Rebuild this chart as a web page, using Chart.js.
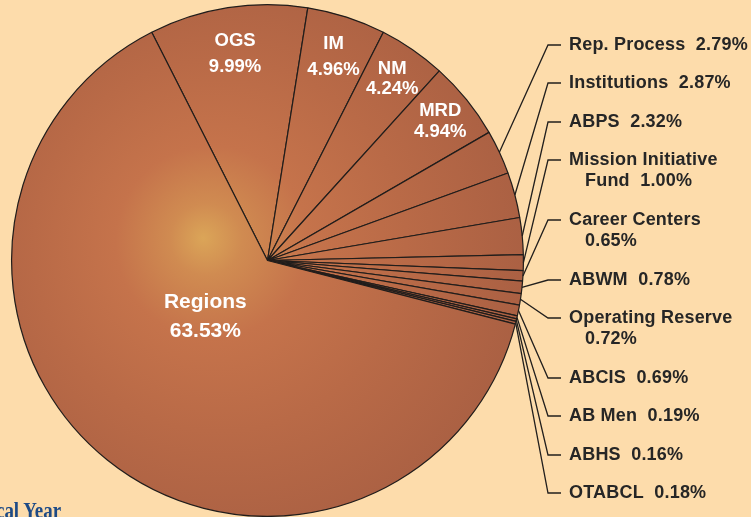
<!DOCTYPE html>
<html>
<head>
<meta charset="utf-8">
<script src="https://cdn.jsdelivr.net/npm/chart.js@4.4.0/dist/chart.umd.min.js"></script>
<style>
  html, body { margin: 0; padding: 0; background: #fddcab; overflow: hidden; }
  #wrap { position: relative; width: 751px; height: 517px; }
  #note { position: absolute; right: 690px; top: 498px; font: bold 24px 'Liberation Serif', serif;
          line-height: 24px; color: #1d4a86; white-space: nowrap;
          transform: scaleX(0.79); transform-origin: right center; }
</style>
</head>
<body>
<div id="wrap">
  <canvas id="myChart" width="751" height="517"></canvas>
  <div id="note">Fiscal Year</div>
</div>
<script>
// slices in drawing order (clockwise from OGS)
var labels = ['OGS', 'IM', 'NM', 'MRD', 'Rep. Process', 'Institutions', 'ABPS',
  'Mission Initiative Fund', 'Career Centers', 'ABWM', 'Operating Reserve', 'ABCIS',
  'AB Men', 'ABHS', 'OTABCL', 'Regions'];
var values = [9.99, 4.96, 4.24, 4.94, 2.79, 2.87, 2.32, 1.00, 0.65, 0.78, 0.72, 0.69,
  0.19, 0.16, 0.18, 63.53];

// how the label text is split into lines
var inner = { 0: ['OGS'], 1: ['IM'], 2: ['NM'], 3: ['MRD'], 15: ['Regions'] };
var outer = {
  4: ['Rep. Process  #'], 5: ['Institutions  #'], 6: ['ABPS  #'],
  7: ['Mission Initiative', 'Fund  #'], 8: ['Career Centers', '#'], 9: ['ABWM  #'],
  10: ['Operating Reserve', '#'], 11: ['ABCIS  #'], 12: ['AB Men  #'], 13: ['ABHS  #'],
  14: ['OTABCL  #']
};

// layout for the labels
var innerPos = { 0: [209, 0, 26, 18.5], 1: [214, 0, 26, 18.5], 2: [220, 0, 20, 18.5],
  3: [222, 0, 21, 18.5], 15: [84, 9, 29, 21] }; // radius, angle shift, line gap, font size
var outerY = { 4: 45, 5: 83, 6: 122, 7: 160, 8: 220, 9: 280, 10: 318, 11: 378,
  12: 416, 13: 455, 14: 493 };

var fmt = function(v) { return v.toFixed(2) + '%'; };

var grad = null;
function fillFor(ctx) {
  var chart = ctx.chart;
  if (!grad) {
    var c = chart.ctx;
    grad = c.createRadialGradient(203, 238, 0, 230, 250, 300);
    grad.addColorStop(0, '#dba558');
    grad.addColorStop(0.12, '#d08b51');
    grad.addColorStop(0.32, '#c5734b');
    grad.addColorStop(0.62, '#b96a47');
    grad.addColorStop(1, '#aa6043');
  }
  return grad;
}

var labelPlugin = {
  id: 'labelPlugin',
  afterDatasetsDraw: function(chart) {
    var c = chart.ctx;
    var arcs = chart.getDatasetMeta(0).data;
    c.save();
    arcs.forEach(function(arc, i) {
      var p = arc.getProps(['x', 'y', 'startAngle', 'endAngle', 'outerRadius'], true);
      var mid = (p.startAngle + p.endAngle) / 2;
      if (inner[i]) {
        var lp = innerPos[i];
        var a = mid + lp[1] * Math.PI / 180;
        var cx = p.x + Math.cos(a) * lp[0];
        var cy = p.y + Math.sin(a) * lp[0];
        c.fillStyle = '#ffffff';
        c.font = 'bold ' + lp[3] + 'px "Liberation Sans", Arial, sans-serif';
        c.textAlign = 'center';
        c.textBaseline = 'middle';
        c.fillText(inner[i][0], cx, cy - lp[2] / 2);
        c.fillText(fmt(values[i]), cx, cy + lp[2] / 2);
      } else if (outer[i]) {
        var y = outerY[i];
        var sx = p.x + Math.cos(mid) * p.outerRadius;
        var sy = p.y + Math.sin(mid) * p.outerRadius;
        c.strokeStyle = '#221f1d';
        c.lineWidth = 1.3;
        c.beginPath();
        c.moveTo(sx, sy);
        c.lineTo(548, y);
        c.lineTo(561, y);
        c.stroke();
        c.fillStyle = '#262626';
        c.font = 'bold 18px "Liberation Sans", Arial, sans-serif';
        c.letterSpacing = '0.2px';
        c.textAlign = 'left';
        c.textBaseline = 'middle';
        var lines = outer[i];
        lines.forEach(function(t, k) {
          var txt = t.replace('#', fmt(values[i]));
          var x = k === 0 ? 569 : 585;
          c.fillText(txt, x, y + k * 21);
        });
        c.letterSpacing = '0px';
      }
    });
    c.restore();
  }
};

const ctx = document.getElementById('myChart').getContext('2d');
const myChart = new Chart(ctx, {
  type: 'pie',
  data: {
    labels: labels,
    datasets: [{
      data: values,
      backgroundColor: fillFor,
      borderColor: '#211d1b',
      borderWidth: 1.2
    }]
  },
  options: {
    responsive: false,
    animation: false,
    rotation: -26.9,
    layout: { padding: { left: 11, right: 227, top: 4, bottom: 0 } },
    plugins: {
      legend: { display: false },
      tooltip: { enabled: false }
    }
  },
  plugins: [labelPlugin]
});
</script>
</body>
</html>
